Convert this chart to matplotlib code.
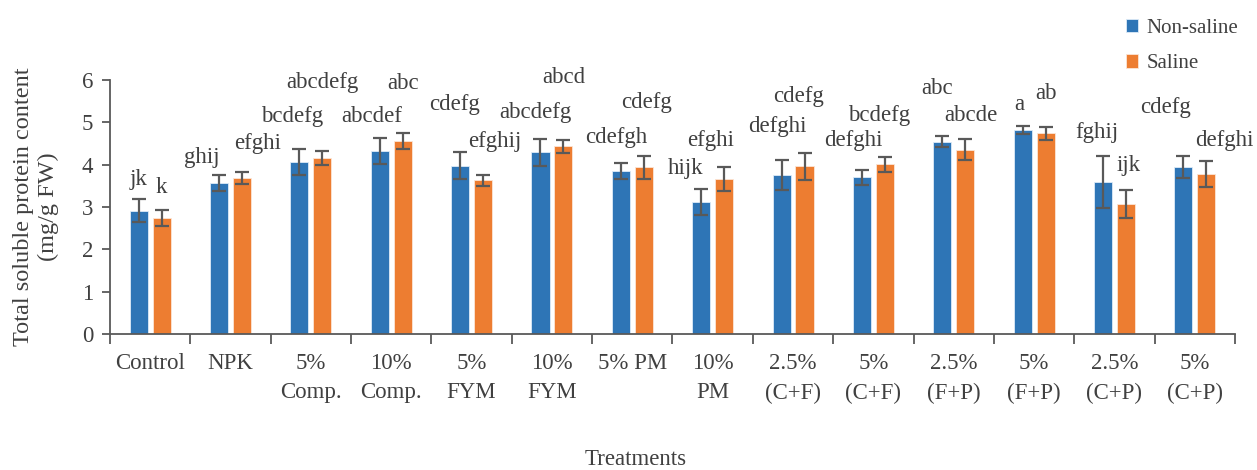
import matplotlib.pyplot as plt
import numpy as np

plt.rcParams['font.family'] = ['Liberation Serif', 'DejaVu Serif']

treatments = ['Control', 'NPK', '5%\nComp.', '10%\nComp.', '5%\nFYM', '10%\nFYM', '5% PM',
              '10%\nPM', '2.5%\n(C+F)', '5%\n(C+F)', '2.5%\n(F+P)', '5%\n(F+P)', '2.5%\n(C+P)', '5%\n(C+P)']

non_saline = [2.91, 3.56, 4.07, 4.32, 3.97, 4.29, 3.85, 3.11, 3.76, 3.70, 4.54, 4.82, 3.59, 3.95]
saline = [2.73, 3.69, 4.16, 4.56, 3.63, 4.43, 3.94, 3.66, 3.96, 4.01, 4.35, 4.74, 3.07, 3.78]
err_ns = [0.27, 0.19, 0.31, 0.31, 0.32, 0.32, 0.19, 0.31, 0.35, 0.17, 0.13, 0.09, 0.61, 0.26]
err_s = [0.19, 0.14, 0.17, 0.19, 0.13, 0.15, 0.27, 0.28, 0.32, 0.18, 0.25, 0.15, 0.34, 0.30]

letters_ns = ['jk', 'ghij', 'bcdefg', 'abcdef', 'cdefg', 'abcdefg', 'cdefgh',
              'hijk', 'defghi', 'defghi', 'abc', 'a', 'fghij', 'cdefg']
letters_s = ['k', 'efghi', 'abcdefg', 'abc', 'efghij', 'abcd', 'cdefg',
             'efghi', 'cdefg', 'bcdefg', 'abcde', 'ab', 'ijk', 'defghi']

# where the letters sit (manually placed in the original)
lab_y_ns = [3.66, 4.18, 5.13, 5.13, 5.43, 5.24, 4.65, 3.92, 4.89, 4.56, 5.79, 5.43, 4.75, 5.34]
lab_y_s = [3.45, 4.49, 5.93, 5.91, 4.54, 6.05, 5.46, 4.56, 5.60, 5.15, 5.15, 5.67, 3.99, 4.58]
lab_dx_ns = [0, -0.21, -0.09, -0.10, -0.07, -0.06, -0.06, -0.19, -0.05, -0.11, -0.06, -0.04, -0.07, -0.22]
lab_dx_s = [0, 0.19, 0, 0, 0.14, 0, 0.03, -0.17, -0.07, -0.07, 0.07, 0, 0.03, 0.22]

blue = '#2E75B6'
orange = '#ED7D31'
grey = '#595959'
txt = '#404040'

fig = plt.figure(figsize=(12.57, 4.70), dpi=100)
ax = fig.add_axes([0.0875, 0.2894, 0.895, 0.5404])

x = np.arange(len(treatments))
off = 0.143
w = 0.225
ax.bar(x - off, non_saline, w, color=blue, edgecolor='#DDEBF7', linewidth=0.6, label='Non-saline')
ax.bar(x + off, saline, w, color=orange, edgecolor='#FBE5D6', linewidth=0.6, label='Saline')
ax.errorbar(x - off, non_saline, yerr=err_ns, fmt='none', ecolor=grey, elinewidth=1.6, capsize=5, capthick=1.6)
ax.errorbar(x + off, saline, yerr=err_s, fmt='none', ecolor=grey, elinewidth=1.6, capsize=5, capthick=1.6)

for i in range(len(x)):
    ax.text(x[i] - off + lab_dx_ns[i], lab_y_ns[i], letters_ns[i], ha='center', va='center',
            fontsize=16.5, color=txt, clip_on=False)
    ax.text(x[i] + off + lab_dx_s[i], lab_y_s[i], letters_s[i], ha='center', va='center',
            fontsize=16.5, color=txt, clip_on=False)

ax.set_xlim(-0.5, len(x) - 0.5)
ax.set_ylim(0, 6)
ax.set_yticks(range(7))
ax.set_xticks(x)
ax.set_xticklabels(treatments, fontsize=16.5, color=txt, linespacing=1.5, va='top')
ax.set_xticks(np.arange(len(x) + 1) - 0.5, minor=True)
ax.tick_params(axis='x', which='major', length=0, pad=14)
ax.tick_params(axis='x', which='minor', length=7, width=1.3, color=grey, direction='out')
ax.tick_params(axis='y', length=6, width=1.3, color=grey, labelsize=16.5, labelcolor=txt, pad=6)

for s in ['top', 'right']:
    ax.spines[s].set_visible(False)
for s in ['left', 'bottom']:
    ax.spines[s].set_color(grey)
    ax.spines[s].set_linewidth(1.3)

ax.set_ylabel('Total soluble protein content\n(mg/g FW)', fontsize=17.5, color=txt,
              linespacing=1.25)
ax.yaxis.set_label_coords(-0.045, 0.5)
fig.text(636 / 1257, 0.022, 'Treatments', ha='center', va='center', fontsize=16.5, color=txt)

fig.legend(loc='upper right', bbox_to_anchor=(1.0, 1.0), frameon=False, fontsize=15,
           handlelength=0.6, handleheight=0.6, handletextpad=0.4, labelspacing=0.8,
           labelcolor=txt)

plt.savefig('out.png', dpi=100)
